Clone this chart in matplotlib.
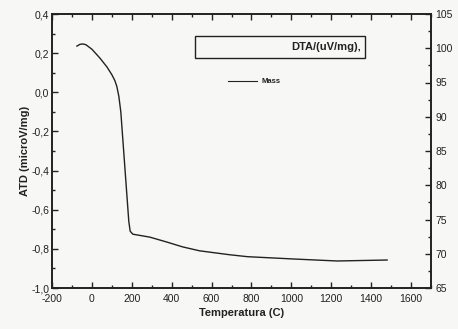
import numpy as np
import matplotlib
matplotlib.use('Agg')
import matplotlib.pyplot as plt
from matplotlib.ticker import MultipleLocator, FuncFormatter
from matplotlib.patches import Rectangle

plt.rcParams['font.family'] = ['Liberation Sans', 'DejaVu Sans']
plt.rcParams['axes.unicode_minus'] = False

# DTA curve
temp = [-75, -60, -45, -30, 0, 40, 75, 100, 115, 125, 135, 145, 155, 165, 175,
        185, 192, 205, 290, 375, 455, 540, 690, 780, 1015, 1230, 1480]
dta = [0.236, 0.245, 0.247, 0.243, 0.22, 0.175, 0.13, 0.09, 0.06, 0.03, -0.02,
       -0.1, -0.24, -0.38, -0.52, -0.66, -0.71, -0.725, -0.74, -0.765, -0.79,
       -0.81, -0.83, -0.84, -0.852, -0.862, -0.857]

xticks = np.arange(-200, 1601, 200)
yticks = np.arange(-1.0, 0.41, 0.2)
rticks = np.arange(65, 106, 5)

ink = '#222222'

def comma(v, pos):
    if abs(v) < 1e-9:
        v = 0.0
    return ('%.1f' % v).replace('.', ',')

fig = plt.figure(figsize=(4.58, 3.29), dpi=100, facecolor='#f7f7f5')
ax = fig.add_axes([52/458, 1-288/329, (431-52)/458, (288-14)/329])
ax.set_facecolor('#f7f7f5')
ax.plot(temp, dta, color=ink, lw=1.0)

ax.set_xlim(-200, 1700)
ax.set_ylim(-1.0, 0.4)
ax.set_xticks(xticks)
ax.set_yticks(yticks)
ax.xaxis.set_minor_locator(MultipleLocator(100))
ax.yaxis.set_minor_locator(MultipleLocator(0.1))
ax.yaxis.set_major_formatter(FuncFormatter(comma))
ax.tick_params(which='both', direction='in', top=True, color=ink, width=1.0)
ax.tick_params(which='major', length=4, labelsize=7.5, labelcolor=ink, pad=2)
ax.tick_params(axis='x', which='major', pad=4)
ax.tick_params(which='minor', length=2)
for s in ax.spines.values():
    s.set_linewidth(1.2)
    s.set_color(ink)
ax.set_xlabel('Temperatura (C)', fontsize=8, fontweight='bold', color=ink, labelpad=3)
ax.set_ylabel('ATD (microV/mg)', fontsize=8, fontweight='bold', color=ink, labelpad=1)

ax2 = ax.twinx()
ax2.set_ylim(65, 105)
ax2.set_yticks(rticks)
ax2.yaxis.set_minor_locator(MultipleLocator(2.5))
ax2.tick_params(which='both', direction='in', color=ink, width=1.0)
ax2.tick_params(which='major', length=4, labelsize=7.5, labelcolor=ink, pad=3)
ax2.tick_params(which='minor', length=2)
for s in ax2.spines.values():
    s.set_linewidth(1.2)
    s.set_color(ink)

# legend-like annotations
ax.add_patch(Rectangle((0.378, 0.84), 0.449, 0.08, transform=ax.transAxes,
                       fill=False, ec=ink, lw=1.0))
ax.text(0.815, 0.88, 'DTA/(uV/mg),', transform=ax.transAxes, ha='right',
        va='center', fontsize=8, fontweight='bold', color=ink)
ax.plot([0.464, 0.54], [0.755, 0.755], transform=ax.transAxes, color=ink, lw=0.8)
ax.text(0.552, 0.755, 'Mass', transform=ax.transAxes, ha='left', va='center',
        fontsize=5.5, fontweight='bold', color=ink)

fig.savefig('out.png', dpi=100, facecolor=fig.get_facecolor())
